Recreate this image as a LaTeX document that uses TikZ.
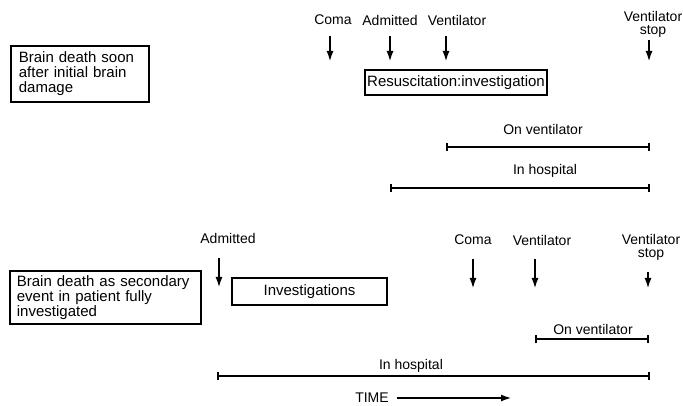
\documentclass[tikz,border=0pt]{standalone}
\usepackage{fontspec}
\setmainfont{Liberation Sans}
\usetikzlibrary{arrows.meta}

\begin{document}
\begin{tikzpicture}[
	x=1pt, y=-1pt,
	event/.style={
		align=center,
		inner sep=0pt,
		font=\fontsize{14}{13}\selectfont
	},
	casebox/.style={
		rectangle,
		draw=black,
		line width=1.8pt,
		align=left,
		anchor=north west,
		inner ysep=0pt,
		font=\fontsize{15}{15}\selectfont
	},
	phasebox/.style={
		rectangle,
		draw=black,
		line width=1.8pt,
		align=center,
		inner sep=0pt,
		font=\fontsize{15}{15}\selectfont
	},
	onset/.style={
		line width=2.2pt,
		-{Latex[length=11pt,width=7pt]}
	},
	span/.style={
		line width=2.4pt,
		{Bar[width=8pt]}-{Bar[width=8pt]}
	},
]

\useasboundingbox (0,0) rectangle (683,406);

% first case: brain death soon after damage
\node[casebox, inner xsep=8pt, text width=122pt, minimum width=138pt, minimum height=56pt]
(caseA) at (10,45) {Brain death soon\\after initial brain\\damage};

\node[event] (comaA) at (333,20) {Coma};
\node[event] (admA) at (390,20) {Admitted};
\node[event] (ventA) at (457,20) {Ventilator};
\node[event] (stopA) at (653,24) {Ventilator\\stop};

\coordinate (comaA1) at (330,36);
\coordinate (comaA2) at (330,62);
\coordinate (admA1) at (390,36);
\coordinate (admA2) at (390,62);
\coordinate (ventA1) at (446,36);
\coordinate (ventA2) at (446,62);
\coordinate (stopA1) at (649,40);
\coordinate (stopA2) at (649,62);

\draw[onset] (comaA1) -- (comaA2);
\draw[onset] (admA1) -- (admA2);
\draw[onset] (ventA1) -- (ventA2);
\draw[onset] (stopA1) -- (stopA2);

\node[phasebox, minimum width=182pt, minimum height=25pt] (resus) at (456,82.5) {Resuscitation:investigation};

\node[event] (onventA) at (543,129) {On ventilator};
\coordinate (onventA1) at (446,147);
\coordinate (onventA2) at (650,147);
\draw[span] (onventA1) -- (onventA2);

\node[event] (hospA) at (545,171) {In hospital};
\coordinate (hospA1) at (390,188);
\coordinate (hospA2) at (650,188);
\draw[span] (hospA1) -- (hospA2);

% second case: brain death as secondary event
\node[casebox, inner xsep=7pt, text width=177pt, minimum width=191pt, minimum height=53pt]
(caseB) at (9,270) {Brain death as secondary\\event in patient fully\\investigated};

\node[event] (admB) at (228,238) {Admitted};
\node[event] (comaB) at (473,240) {Coma};
\node[event] (ventB) at (542,240) {Ventilator};
\node[event] (stopB) at (651,247) {Ventilator\\stop};

\coordinate (admB1) at (219,258);
\coordinate (admB2) at (219,288);
\coordinate (comaB1) at (473,259);
\coordinate (comaB2) at (473,289);
\coordinate (ventB1) at (535,259);
\coordinate (ventB2) at (535,289);
\coordinate (stopB1) at (648,272);
\coordinate (stopB2) at (648,289);

\draw[onset] (admB1) -- (admB2);
\draw[onset] (comaB1) -- (comaB2);
\draw[onset] (ventB1) -- (ventB2);
\draw[onset] (stopB1) -- (stopB2);

\node[phasebox, minimum width=155pt, minimum height=27pt] (invest) at (309.5,291.5) {Investigations};

\node[event] (onventB) at (593,329) {On ventilator};
\coordinate (onventB1) at (535,339);
\coordinate (onventB2) at (649,339);
\draw[span] (onventB1) -- (onventB2);

\node[event] (hospB) at (411,366) {In hospital};
\coordinate (hospB1) at (217,376);
\coordinate (hospB2) at (650,376);
\draw[span] (hospB1) -- (hospB2);

\node[event] (time) at (372,398) {TIME};
\coordinate (time1) at (397,398);
\coordinate (time2) at (512,398);
\draw[onset] (time1) -- (time2);

\end{tikzpicture}
\end{document}
